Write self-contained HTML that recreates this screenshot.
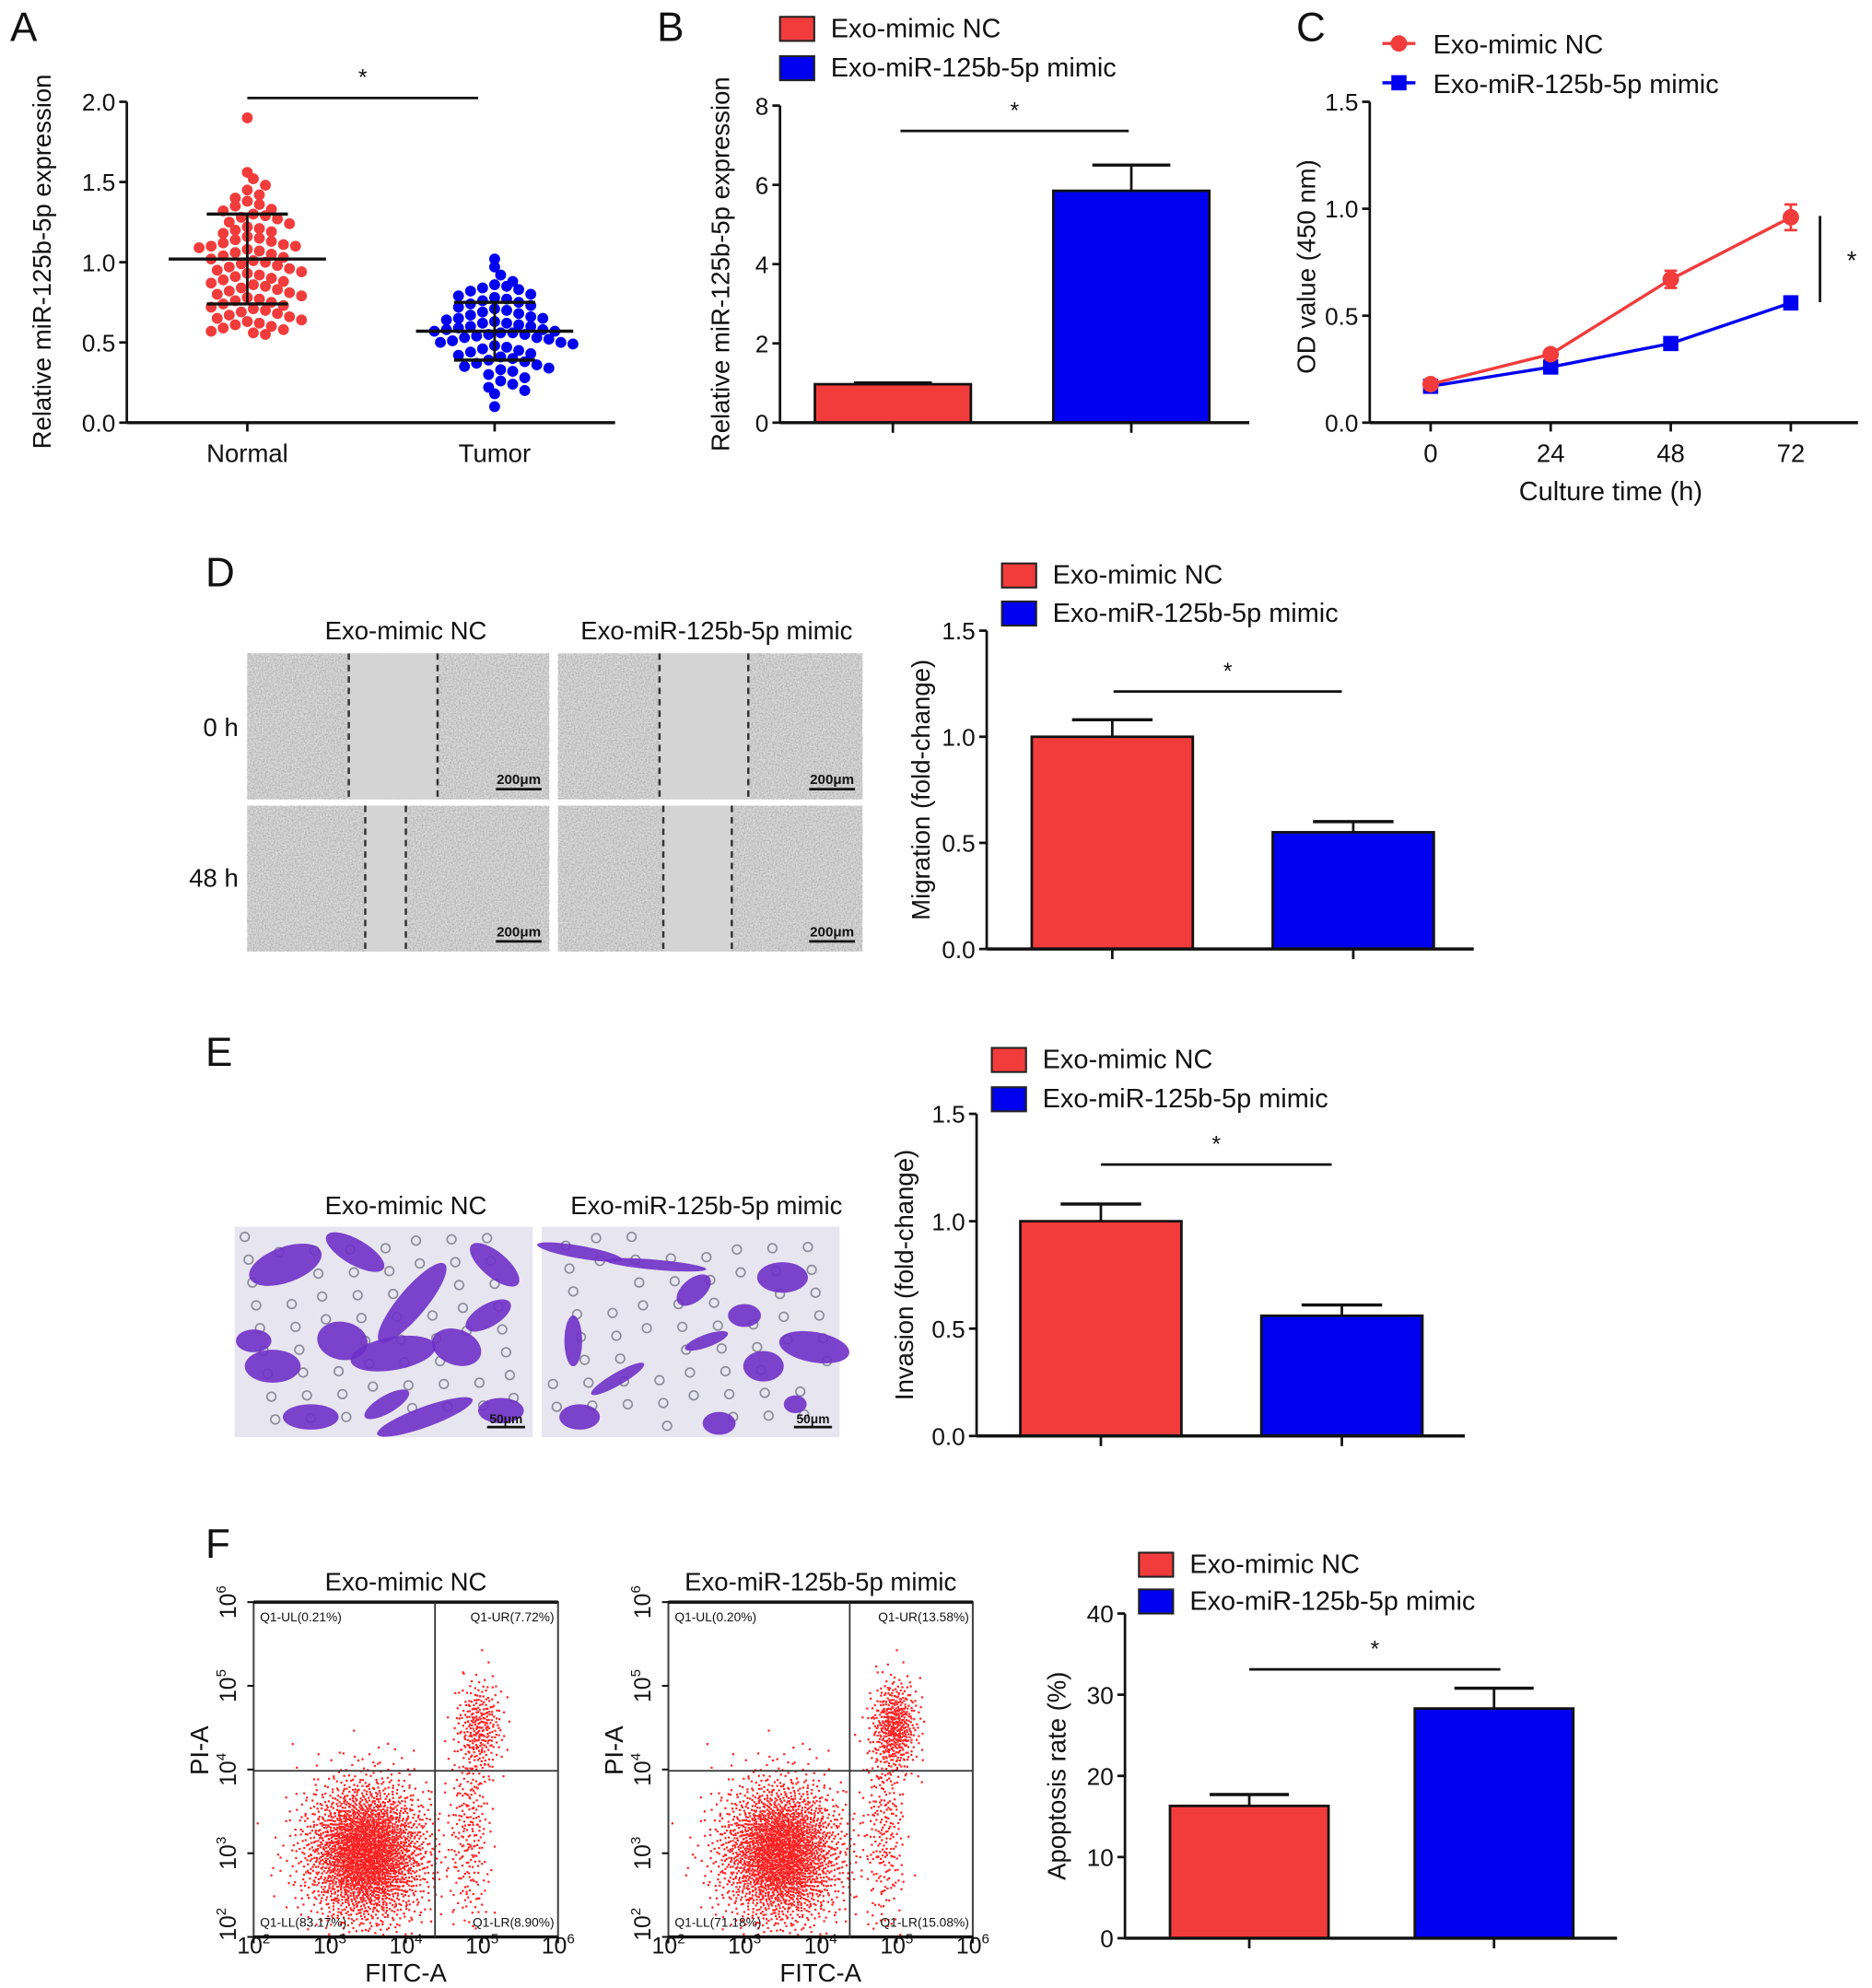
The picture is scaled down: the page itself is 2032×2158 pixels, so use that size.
<!DOCTYPE html>
<html><head><meta charset="utf-8"><style>
html,body{margin:0;padding:0;background:#fff;}
svg{display:block;font-family:"Liberation Sans",Arial,sans-serif;}
</style></head><body>
<svg id="fig" width="2032" height="2158" viewBox="0 0 1476 1567" xmlns="http://www.w3.org/2000/svg">
<defs>
<filter id="noise" x="0" y="0" width="100%" height="100%">
<feTurbulence type="fractalNoise" baseFrequency="0.85" numOctaves="2" seed="4"/>
<feColorMatrix type="matrix" values="0 0 0 0 0.35  0 0 0 0 0.35  0 0 0 0 0.35  0 0 0 -1.6 1.05"/>
</filter>
</defs>
<g id="root"></g>
</svg>
<script>
// ---------- DATA ----------
const normalVals=[1.90,1.56,1.52,1.48,1.45,1.42,1.40,1.38,1.36,1.35,1.33,1.32,1.30,1.29,1.28,1.27,1.25,1.24,1.22,1.21,1.20,1.19,1.18,1.16,1.15,1.14,1.13,1.12,1.11,1.10,1.10,1.09,1.08,1.07,1.06,1.05,1.04,1.03,1.02,1.01,1.00,0.99,0.98,0.97,0.96,0.95,0.94,0.93,0.92,0.91,0.90,0.89,0.88,0.87,0.86,0.85,0.84,0.83,0.82,0.81,0.80,0.79,0.78,0.77,0.76,0.75,0.74,0.73,0.72,0.71,0.70,0.69,0.68,0.67,0.66,0.65,0.64,0.63,0.62,0.61,0.60,0.59,0.58,0.57,0.56,0.55];
const tumorVals=[1.02,0.97,0.92,0.88,0.86,0.85,0.84,0.83,0.82,0.80,0.79,0.78,0.77,0.76,0.75,0.74,0.73,0.72,0.71,0.70,0.69,0.68,0.67,0.66,0.65,0.65,0.64,0.63,0.62,0.62,0.61,0.60,0.60,0.59,0.58,0.58,0.57,0.57,0.56,0.56,0.55,0.55,0.54,0.53,0.53,0.52,0.51,0.50,0.50,0.49,0.48,0.47,0.46,0.45,0.44,0.43,0.42,0.41,0.40,0.39,0.38,0.37,0.36,0.35,0.34,0.33,0.32,0.30,0.28,0.26,0.24,0.22,0.20,0.18,0.10];
const scatterCats=["Normal","Tumor"];
const scatterMeans=[1.02,0.57];
const scatterSD=[0.28,0.18];
const scatterTicks=[0,0.5,1.0,1.5,2.0];

const exprCats=["Exo-mimic NC","Exo-miR-125b-5p mimic"];
const exprVals=[0.97,5.85];
const exprErr=[0.03,0.65];
const exprTicks=[0,2,4,6,8];

const odTimes=[0,24,48,72];
const odNC=[0.18,0.32,0.67,0.96];
const odNCerr=[0.02,0.02,0.04,0.06];
const odMimic=[0.17,0.26,0.37,0.56];
const odMimicErr=[0.01,0.02,0.02,0.03];
const odTicks=[0,0.5,1.0,1.5];

const migVals=[1.00,0.55];
const migErr=[0.08,0.05];
const invVals=[1.00,0.56];
const invErr=[0.08,0.05];
const foldTicks=[0,0.5,1.0,1.5];

const apoVals=[16.3,28.3];
const apoErr=[1.4,2.5];
const apoTicks=[0,10,20,30,40];

const flowQuadNC=["Q1-UL(0.21%)","Q1-UR(7.72%)","Q1-LL(83.17%)","Q1-LR(8.90%)"];
const flowQuadMimic=["Q1-UL(0.20%)","Q1-UR(13.58%)","Q1-LL(71.18%)","Q1-LR(15.08%)"];

const RED="#f23c3c", BLUE="#0000f0";
const NS="http://www.w3.org/2000/svg";
const root=document.getElementById('root');
function mk(tag,attrs,parent){const e=document.createElementNS(NS,tag);for(const k in attrs)e.setAttribute(k,attrs[k]);(parent||root).appendChild(e);return e;}
function txt(s,x,y,size,anchor,parent,extra){const t=mk('text',Object.assign({x:x,y:y,'font-size':size,'text-anchor':anchor||'middle',fill:'#111'},extra||{}),parent);t.textContent=s;return t;}
function line(x1,y1,x2,y2,parent,w,c){return mk('line',{x1:x1,y1:y1,x2:x2,y2:y2,stroke:c||'#111','stroke-width':w||2},parent);}

[["A",8,32],["B",518,32],["C",1022,32],["D",162,462],["E",162,840],["F",162,1228]].forEach(p=>{
  const t=txt(p[0],p[1],p[2],32,'start');
  
  
});

function yAxis(g,x,yTop,yBot,ticks,max,fmt){
  line(x,yTop,x,yBot,g,2);
  ticks.forEach(v=>{const y=yBot-(v/max)*(yBot-yTop);line(x-6,y,x,y,g,2);
    const t=txt(fmt(v),x-9,y+7,19,'end',g);
    
    });
}
function yTitle(g,s,x,yc){const t=txt(s,x,yc,20,'middle',g,{transform:`rotate(-90 ${x} ${yc})`});
  
  }
function legend(g,x,y,dy){[RED,BLUE].forEach((c,i)=>{
  const r=mk('rect',{x:x,y:y+i*dy,width:27,height:19,fill:c,stroke:'#222','stroke-width':1.5},g);
  
  
  const t=txt(exprCats[i],x+40,y+i*dy+16,21,'start',g);
  
  });}
function sig(g,x1,x2,y){line(x1,y,x2,y,g,2);const t=txt('*',(x1+x2)/2,y-10,18,'middle',g);
  
  }

function barChart(name,cfg,vals,errs,ticks,fmt){
  const g=mk('g',{});
  
  
  const max=ticks[ticks.length-1];
  const ys=v=>cfg.yBot-(v/max)*(cfg.yBot-cfg.yTop);
  vals.forEach((v,i)=>{
    const cx=cfg.centers[i];
    const top=ys(v), et=ys(v+errs[i]);
    line(cx,top,cx,et,g,2);
    line(cx-cfg.w*0.25,et,cx+cfg.w*0.25,et,g,2.5);
    const b=mk('rect',{x:cx-cfg.w/2,y:top,width:cfg.w,height:cfg.yBot-top,fill:i?BLUE:RED,stroke:'#111','stroke-width':2},g);
    
    
    line(cx,cfg.yBot,cx,cfg.yBot+8,g,2);
  });
  yAxis(g,cfg.x0,cfg.yTop,cfg.yBot,ticks,max,fmt);
  line(cfg.x0,cfg.yBot,cfg.x1,cfg.yBot,g,2.5);
  yTitle(g,cfg.title,cfg.tx,(cfg.yTop+cfg.yBot)/2);
  legend(g,cfg.lx,cfg.ly,cfg.ldy);
  sig(g,cfg.s1,cfg.s2,cfg.sy);
  return g;
}

// ---------- A: scatter ----------
(function(){
  const g=mk('g',{});
  
  
  const yTop=80,yBot=333,max=2;
  const ys=v=>yBot-(v/max)*(yBot-yTop);
  const centers=[195,390];
  [normalVals,tumorVals].forEach((arr,gi)=>{
    const bins={};
    arr.forEach(v=>{const b=Math.round(v/0.075);(bins[b]=bins[b]||[]).push(v);});
    Object.values(bins).forEach(list=>{
      list.forEach((v,i)=>{
        const off=(i%2?1:-1)*Math.ceil(i/2)*9.5+(list.length%2?0:4.75);
        const c=mk('circle',{cx:centers[gi]+off,cy:ys(v),r:4.3,fill:gi?BLUE:RED},g);
        
        
      });
    });
  });
  scatterMeans.forEach((m,i)=>{
    const cx=centers[i];
    line(cx-62,ys(m),cx+62,ys(m),g,2.5);
    line(cx,ys(m-scatterSD[i]),cx,ys(m+scatterSD[i]),g,2);
    line(cx-32,ys(m+scatterSD[i]),cx+32,ys(m+scatterSD[i]),g,2.5);
    line(cx-32,ys(m-scatterSD[i]),cx+32,ys(m-scatterSD[i]),g,2.5);
    line(cx,yBot,cx,yBot+7,g,2);
    const t=txt(scatterCats[i],cx,364,20,'middle',g);
    
    
  });
  yAxis(g,100,yTop,yBot,scatterTicks,max,v=>v.toFixed(1));
  line(100,yBot,485,yBot,g,2.5);
  yTitle(g,"Relative miR-125b-5p expression",40,206);
  sig(g,195,377,77);
})();

// ---------- B ----------
barChart('panel-b-bar-chart',{x0:615,x1:985,yTop:83,yBot:333,centers:[704,892],w:123,title:"Relative miR-125b-5p expression",tx:575,lx:615,ly:13,ldy:31,s1:710,s2:890,sy:103},exprVals,exprErr,exprTicks,v=>String(v));

// ---------- C: line chart ----------
(function(){
  const g=mk('g',{});
  
  
  const yTop=80,yBot=333,max=1.5;
  const ys=v=>yBot-(v/max)*(yBot-yTop);
  const xs=t=>1128+t/72*284;
  yAxis(g,1080,yTop,yBot,odTicks,max,v=>v.toFixed(1));
  line(1080,yBot,1465,yBot,g,2.5);
  odTimes.forEach(t=>{line(xs(t),yBot,xs(t),yBot+7,g,2);
    const l=txt(String(t),xs(t),364,20,'middle',g);
    
    });
  const xt=txt("Culture time (h)",1270,394,21,'middle',g);
  
  
  yTitle(g,"OD value (450 nm)",1037,210);
  [[odMimic,odMimicErr,BLUE,'sq'],[odNC,odNCerr,RED,'ci']].forEach(s=>{
    const pts=s[0].map((v,i)=>xs(odTimes[i])+','+ys(v)).join(' ');
    const pl=mk('polyline',{points:pts,fill:'none',stroke:s[2],'stroke-width':2.5},g);
    
    
    s[0].forEach((v,i)=>{const x=xs(odTimes[i]);
      line(x,ys(v-s[1][i]),x,ys(v+s[1][i]),g,2,s[2]);
      line(x-5,ys(v+s[1][i]),x+5,ys(v+s[1][i]),g,2,s[2]);
      line(x-5,ys(v-s[1][i]),x+5,ys(v-s[1][i]),g,2,s[2]);
      const m=s[3]=='sq'?mk('rect',{x:x-6,y:ys(v)-6,width:12,height:12,fill:s[2]},g):mk('circle',{cx:x,cy:ys(v),r:6.5,fill:s[2]},g);
      
      });
  });
  line(1435,170,1435,238,g,2);
  txt('*',1460,212,20,'middle',g);
  [[RED,'ci',34,exprCats[0]],[BLUE,'sq',65,exprCats[1]]].forEach(l=>{
    line(1090,l[2],1116,l[2],g,2.5,l[0]);
    if(l[1]=='ci')mk('circle',{cx:1103,cy:l[2],r:6.5,fill:l[0]},g);else mk('rect',{x:1097,y:l[2]-6,width:12,height:12,fill:l[0]},g);
    const t=txt(l[3],1130,l[2]+8,21,'start',g);
    
    });
})();

// ---------- D: wound images ----------
(function(){
  const g=mk('g',{});
  
  
  const cols=[[195,238],[440,240]], rows=[[515,115],[635,115]];
  const gaps=[[[275,345],[520,590]],[[288,320],[523,577]]];
  rows.forEach((r,ri)=>cols.forEach((c,ci)=>{
    const im=mk('g',{},g);
    
    
    mk('rect',{x:c[0],y:r[0],width:c[1],height:r[1],fill:'#d9d9d9'},im);
    mk('rect',{x:c[0],y:r[0],width:c[1],height:r[1],fill:'#fff',filter:'url(#noise)'},im);
    const gp=gaps[ri][ci];
    mk('rect',{x:gp[0],y:r[0],width:gp[1]-gp[0],height:r[1],fill:'#d4d4d4'},im);
    gp.forEach(x=>line(x,r[0],x,r[0]+r[1],im,1.8,'#333').setAttribute('stroke-dasharray','5 4'));
    line(c[0]+c[1]-42,r[0]+r[1]-8,c[0]+c[1]-6,r[0]+r[1]-8,im,2);
    txt('200μm',c[0]+c[1]-24,r[0]+r[1]-12,11,'middle',im,{'font-weight':'bold'});
  }));
  txt(exprCats[0],320,504,20,'middle',g);
  txt(exprCats[1],565,504,20,'middle',g);
  txt('0 h',188,580,20,'end',g);
  txt('48 h',188,699,20,'end',g);
})();
barChart('panel-d-migration-chart',{x0:778,x1:1162,yTop:497,yBot:748,centers:[877,1067],w:127,title:"Migration (fold-change)",tx:733,lx:790,ly:444,ldy:30,s1:878,s2:1058,sy:545},migVals,migErr,foldTicks,v=>v.toFixed(1));

// ---------- E: transwell images ----------
(function(){
  const g=mk('g',{});
  
  
  const imgs=[[185,235],[427,235]];
  const cellsNC=[[40,30,30,14,-20],[95,20,26,10,30],[140,60,40,11,-50],[205,30,24,10,40],[30,110,22,13,0],[85,90,20,15,10],[125,100,34,13,-10],[175,95,20,14,20],[200,70,20,9,-30],[60,150,22,10,0],[150,150,40,8,-20],[210,145,18,10,0],[15,90,14,9,0],[120,140,20,7,-30]];
  const cellsM=[[30,20,34,5,10],[90,30,40,4,5],[120,50,16,9,-40],[190,40,20,12,0],[160,70,13,9,0],[215,95,28,12,10],[60,120,24,5,-30],[175,110,16,12,0],[200,140,9,7,0],[30,150,16,10,0],[140,155,13,9,0],[25,90,7,20,0],[130,90,18,5,-20]];
  [cellsNC,cellsM].forEach((cells,i)=>{
    const [x0,w]=imgs[i], y0=967, h=166;
    const im=mk('g',{},g);
    
    
    mk('rect',{x:x0,y:y0,width:w,height:h,fill:'#e7e5ef'},im);
    for(let a=0;a<60;a++){const px=x0+8+((a*37+i*11)%(w-16)), py=y0+8+((a*53+i*7)%(h-16));
      mk('circle',{cx:px,cy:py,r:3.5,fill:'none',stroke:'#8a8a9a','stroke-width':1.2},im);}
    cells.forEach(c=>mk('ellipse',{cx:x0+c[0],cy:y0+c[1],rx:c[2],ry:c[3],fill:'#6f30c8',transform:`rotate(${c[4]} ${x0+c[0]} ${y0+c[1]})`,opacity:0.9},im));
    line(x0+w-36,y0+h-8,x0+w-6,y0+h-8,im,2);
    txt('50μm',x0+w-21,y0+h-11,10,'middle',im,{'font-weight':'bold'});
  });
  txt(exprCats[0],320,957,20,'middle',g);
  txt(exprCats[1],557,957,20,'middle',g);
})();
barChart('panel-e-invasion-chart',{x0:770,x1:1155,yTop:878,yBot:1132,centers:[868,1058],w:127,title:"Invasion (fold-change)",tx:720,lx:782,ly:826,ldy:31,s1:868,s2:1050,sy:918},invVals,invErr,foldTicks,v=>v.toFixed(1));

// ---------- F: flow cytometry ----------
function halton(i,b){let f=1,r=0;while(i>0){f/=b;r+=f*(i%b);i=Math.floor(i/b);}return r;}
function flowPlot(name,x0,qx,title,quads,urFrac){
  const g=mk('g',{});
  
  
  const w=240,yT=1263,yB=1527,qy=1396;
  const dots=mk('g',{fill:'#ff2020'},g);
  const N=3200;
  for(let i=1;i<=N;i++){
    const u=halton(i,2),v=halton(i,3),r=Math.sqrt(-2*Math.log(Math.max(u,1e-4))),th=2*Math.PI*v;
    const z1=r*Math.cos(th),z2=r*Math.sin(th);
    let x,y;
    const k=i/N;
    if(k<urFrac){x=x0+178+z1*9;y=1360+z2*18;}
    else if(k<urFrac+0.08){x=x0+170+z1*8;y=1440+z2*45;}
    else{x=x0+88+z1*24;y=1460+z2*28;}
    if(x<x0+2||x>x0+w-2||y<yT+2||y>yB-2)continue;
    mk('rect',{x:x,y:y,width:1.6,height:1.6},dots);
  }
  mk('rect',{x:x0,y:yT,width:w,height:yB-yT,fill:'none',stroke:'#444','stroke-width':1.5},g);
  line(x0,yT,x0+w,yT,g,2.5);line(x0,yB,x0+w,yB,g,2.5);
  line(qx,yT,qx,yB,g,1.3,'#333');line(x0,qy,x0+w,qy,g,1.3,'#333');
  txt(quads[0],x0+5,yT+15,10,'start',g);txt(quads[1],x0+w-3,yT+15,10,'end',g);
  txt(quads[2],x0+5,yB-8,10,'start',g);txt(quads[3],x0+w-3,yB-8,10,'end',g);
  txt(title,x0+w/2,1254,20,'middle',g);
  [2,3,4,5,6].forEach((p,i)=>{
    const xx=x0+i*60;line(xx,yB,xx,yB+5,g,1.5);
    const t=mk('text',{x:xx,y:1540,'font-size':18,'text-anchor':'middle',fill:'#111'},g);t.textContent='10';
    const s=mk('tspan',{'font-size':11,dy:-8},t);s.textContent=String(p);
    const yy=yB-i*66-(i==0?10:0);line(x0-5,yB-i*66,x0,yB-i*66,g,1.5);
    const ty=mk('text',{x:x0-14,y:yy,'font-size':18,'text-anchor':'middle',fill:'#111',transform:`rotate(-90 ${x0-14} ${yy})`},g);ty.textContent='10';
    const sy=mk('tspan',{'font-size':11,dy:-8},ty);sy.textContent=String(p);
  });
  txt('FITC-A',x0+w/2,1562,20,'middle',g);
  const pt=txt('PI-A',x0-36,1380,20,'middle',g,{transform:`rotate(-90 ${x0-36} 1380)`});
  
  
}
flowPlot('flow-plot-nc',200,343,exprCats[0],flowQuadNC,0.08);
flowPlot('flow-plot-mimic',527,670,exprCats[1],flowQuadMimic,0.14);
barChart('panel-f-apoptosis-chart',{x0:887,x1:1275,yTop:1272,yBot:1528,centers:[985,1178],w:125,title:"Apoptosis rate (%)",tx:840,lx:898,ly:1224,ldy:29,s1:985,s2:1183,sy:1316},apoVals,apoErr,apoTicks,v=>String(v));
</script>
</body></html>
